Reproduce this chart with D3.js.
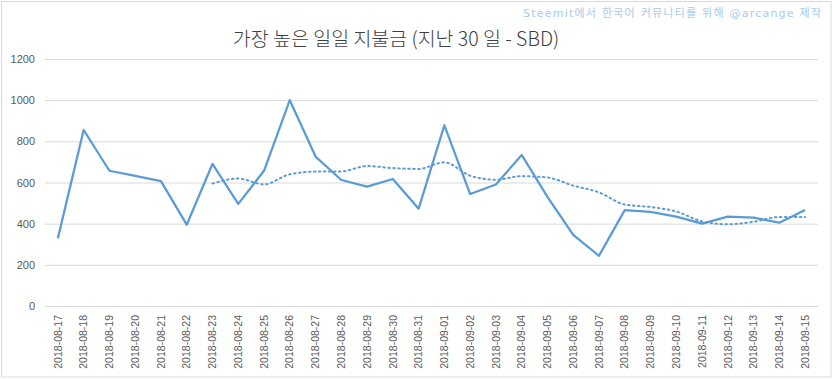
<!DOCTYPE html>
<html><head><meta charset="utf-8">
<script src="https://cdn.jsdelivr.net/npm/d3@7"></script>
<style>body{margin:0;background:#fff}svg{display:block}</style>
</head><body>
<script>
const dates = ["2018-08-17","2018-08-18","2018-08-19","2018-08-20","2018-08-21","2018-08-22","2018-08-23","2018-08-24","2018-08-25","2018-08-26","2018-08-27","2018-08-28","2018-08-29","2018-08-30","2018-08-31","2018-09-01","2018-09-02","2018-09-03","2018-09-04","2018-09-05","2018-09-06","2018-09-07","2018-09-08","2018-09-09","2018-09-10","2018-09-11","2018-09-12","2018-09-13","2018-09-14","2018-09-15"];
const payouts = [329,855,657,632,607,395,690,496,657,1000,726,612,580,617,473,878,544,590,734,530,345,244,466,457,434,400,434,429,405,466];
const trend = [null,null,null,null,null,null,595,619,591,640,653,654,680,670,666,698,633,613,631,624,585,552,493,481,459,411,397,409,432,432];
const yTicks = [0,200,400,600,800,1000,1200];
const titleText = "가장 높은 일일 지불금 (지난 30 일 - SBD)";
const watermark = "Steemit에서 한국어 커뮤니티를 위해 @arcange 제작";

const W = 833, H = 379;
const svg = d3.select("body").append("svg").attr("width", W).attr("height", H);
svg.append("rect").attr("x",1.5).attr("y",1.5).attr("width",W-3.5).attr("height",H-3.5)
  .attr("fill","#fff").attr("stroke","#d9d9d9").attr("stroke-width",1);

const mLeft = 45, mRight = 818, mTop = 59, mBottom = 306;
const x = d3.scaleBand().domain(dates).range([mLeft, mRight]);
const y = d3.scaleLinear().domain([0,1200]).range([mBottom, mTop]);
const cx = d => x(d) + x.bandwidth()/2;

const font = "'Noto Sans CJK KR','Noto Sans',sans-serif";

// gridlines + y axis
const yAxis = d3.axisLeft(y).tickValues(yTicks).tickFormat(d3.format("d")).tickSize(-(mRight-mLeft)).tickPadding(10);
const gy = svg.append("g").attr("transform",`translate(${mLeft},0)`).call(yAxis);
gy.select(".domain").remove();
gy.selectAll(".tick line").attr("stroke","#d9d9d9").attr("stroke-width",1);
gy.selectAll(".tick text").attr("fill","#595959").style("font-family","'Liberation Sans',Arial,sans-serif").style("font-size","11px");

// x axis
const xAxis = d3.axisBottom(x).tickSize(0).tickPadding(0);
const gx = svg.append("g").attr("transform",`translate(0,${mBottom})`).call(xAxis);
gx.select(".domain").remove();
gx.selectAll(".tick text")
  .attr("transform","rotate(-90)")
  .attr("text-anchor","end")
  .attr("x",-9).attr("y",0).attr("dy","0.35em")
  .attr("fill","#595959")
  .style("font-family","'Liberation Sans',Arial,sans-serif").style("font-size","10.5px");

// trend line (dotted)
const tLine = d3.line().defined(d => d[1] != null).x(d => cx(d[0])).y(d => y(d[1])).curve(d3.curveMonotoneX);
svg.append("path").datum(dates.map((d,i)=>[d,trend[i]]))
  .attr("d", tLine).attr("fill","none").attr("stroke","#5b9bd5").attr("stroke-width",2)
  .attr("stroke-dasharray","1.5,3.5").attr("stroke-linecap","round");

// main line
const line = d3.line().x(d => cx(d[0])).y(d => y(d[1]));
svg.append("path").datum(dates.map((d,i)=>[d,payouts[i]]))
  .attr("d", line).attr("fill","none").attr("stroke","#5b9bd5").attr("stroke-width",2.25)
  .attr("stroke-linejoin","round");

// title
svg.append("text").attr("x",396).attr("y",46).attr("text-anchor","middle")
  .style("font-family",font).style("font-size","19.5px").style("font-weight",300)
  .attr("fill","#404040").text(titleText);

// watermark
svg.append("text").attr("x",523).attr("y",16.5)
  .attr("textLength",298).attr("lengthAdjust","spacing")
  .style("font-family","'DejaVu Sans','Noto Sans CJK KR',sans-serif").style("font-size","11px")
  .attr("fill","#a9c9ea").text(watermark);
</script>
</body></html>
